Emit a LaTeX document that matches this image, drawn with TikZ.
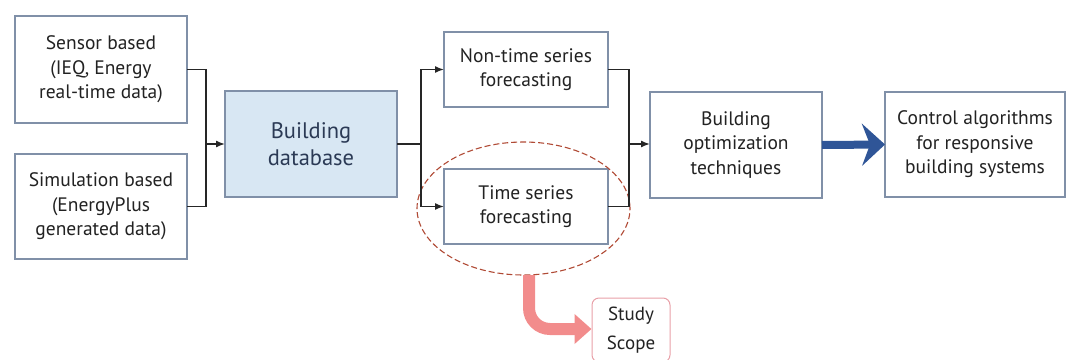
\documentclass[tikz,border=0pt]{standalone}
\usepackage{fontspec}
\setmainfont{PT Sans}
\usetikzlibrary{arrows.meta,shapes.geometric}
\definecolor{boxborder}{HTML}{8090A8}
\definecolor{dbfill}{HTML}{D8E7F3}
\definecolor{dbtext}{HTML}{2B3A55}
\definecolor{txt}{HTML}{222222}
\definecolor{bigblue}{HTML}{2F5597}
\definecolor{ellred}{HTML}{B04A35}
\definecolor{pinkarrow}{HTML}{F28C8C}
\definecolor{pinkborder}{HTML}{E8A0A8}
\begin{document}
\begin{tikzpicture}[x=1pt,y=-1pt,
  box/.style={draw=boxborder,line width=1.1pt,fill=white,inner sep=0pt,outer sep=0pt,
    align=center,text=txt,font=\fontsize{19.5}{24.5}\selectfont},
  conn/.style={draw=black!85,line width=1.4pt,-{Latex[length=9pt,width=7pt]}},
  plain/.style={draw=black!85,line width=1.4pt}]
\useasboundingbox (0,0) rectangle (1070,359);
\clip (0,0) rectangle (1070,359);
\node[box,minimum width=172pt,minimum height=107pt] (sensor) at (101,69.5)
  {Sensor based\\(IEQ, Energy\\real-time data)};
\node[box,minimum width=172pt,minimum height=105pt] (sim) at (101,206.5)
  {Simulation based\\(EnergyPlus\\generated data)};
\node[box,fill=dbfill,text=dbtext,minimum width=172pt,minimum height=106pt,
  font=\fontsize{22.5}{27.5}\selectfont] (db) at (311,144) {Building\\database};
\node[box,minimum width=164pt,minimum height=75pt] (nts) at (526,69.5)
  {Non-time series\\forecasting};
\node[box,minimum width=164pt,minimum height=75pt] (ts) at (526,206.5)
  {Time series\\forecasting};
\node[box,minimum width=172pt,minimum height=106pt] (opt) at (736,145)
  {Building\\optimization\\techniques};
\node[box,minimum width=180pt,minimum height=105pt] (ctrl) at (975,144.5)
  {Control algorithms\\for responsive\\building systems};
\node[draw=ellred,dash pattern=on 6pt off 3pt,line width=1.1pt,ellipse,
  minimum width=213pt,minimum height=133pt,inner sep=0pt] (ell) at (523.5,208.5) {};
\node[draw=pinkborder,line width=1pt,rounded corners=7pt,minimum width=78pt,
  minimum height=64pt,inner sep=0pt,align=center,text=txt,
  font=\fontsize{19}{29}\selectfont] (study) at (631,330) {Study\\Scope};
% left junction
\coordinate (j1) at (206,144);
\draw[plain] (sensor.east) -| (j1);
\draw[plain] (sim.east) -| (j1);
\draw[conn] (j1) -- (db.west);
% split to forecasting boxes
\coordinate (j2) at (421,144);
\draw[plain] (db.east) -- (j2);
\draw[conn] (j2) |- (nts.west);
\draw[conn] (j2) |- (ts.west);
% merge into optimization
\coordinate (j3) at (629,144);
\draw[plain] (nts.east) -| (j3);
\draw[plain] (ts.east) -| (j3);
\draw[conn] (j3) -- (opt.west |- j3);
% big blue arrow
\draw[bigblue,line width=8pt,-{Stealth[length=23pt,width=42pt,inset=8pt]}]
  (opt.east) -- (ctrl.west);
% pink arrow to study scope
\coordinate (pk0) at (529,275);
\coordinate (pk1) at (529,308);
\coordinate (pk2) at (550,329);
\draw[pinkarrow,line width=12pt,-{Triangle[length=17pt,width=29pt]}]
  (pk0) -- (pk1) to[out=-90,in=180] (pk2) -- (study.west |- pk2);
\end{tikzpicture}
\end{document}
